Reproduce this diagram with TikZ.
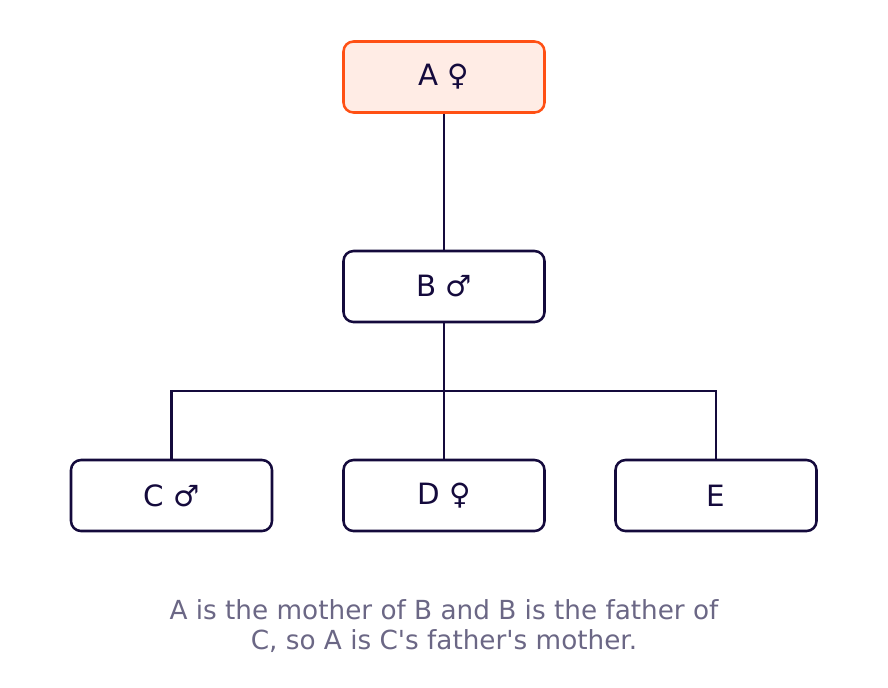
\documentclass[tikz,border=0pt]{standalone}
\usepackage{fontspec}
\setmainfont{DejaVu Sans}
\definecolor{ink}{HTML}{140A3C}
\definecolor{accent}{HTML}{FF5014}
\definecolor{accentfill}{HTML}{FFECE5}
\definecolor{captext}{HTML}{6B6785}
\begin{document}
\begin{tikzpicture}[x=0.75pt,y=-0.75pt,
  box/.style={draw=ink, line width=1.9pt, rounded corners=7.5pt, fill=white,
    minimum width=150.75pt, minimum height=53.25pt, inner sep=0pt,
    text=ink, font=\fontsize{22}{26}\selectfont},
  focus/.style={box, draw=accent, fill=accentfill},
  link/.style={draw=ink, line width=1.9pt}]
\useasboundingbox (0,0) rectangle (888,687);
\node[focus] (A) at (444,77) {A ♀};
\node[box] (B) at (444,286.5) {B ♂};
\node[box] (C) at (171.5,495.5) {C ♂};
\node[box] (D) at (444,495.5) {D ♀};
\node[box] (E) at (716,495.5) {E};
\coordinate (bus) at (444,391);
\draw[link] (A.south) -- (B.north);
\draw[link] (B.south) -- (bus);
\draw[link] (C.north) |- (bus) -| (E.north);
\draw[link] (bus) -- (D.north);
\node[text=captext, font=\fontsize{19.7}{22.5}\selectfont, align=center] (cap) at (444,626) {A is the mother of B and B is the father of\\C, so A is C\textquotesingle s father\textquotesingle s mother.};
\end{tikzpicture}
\end{document}
